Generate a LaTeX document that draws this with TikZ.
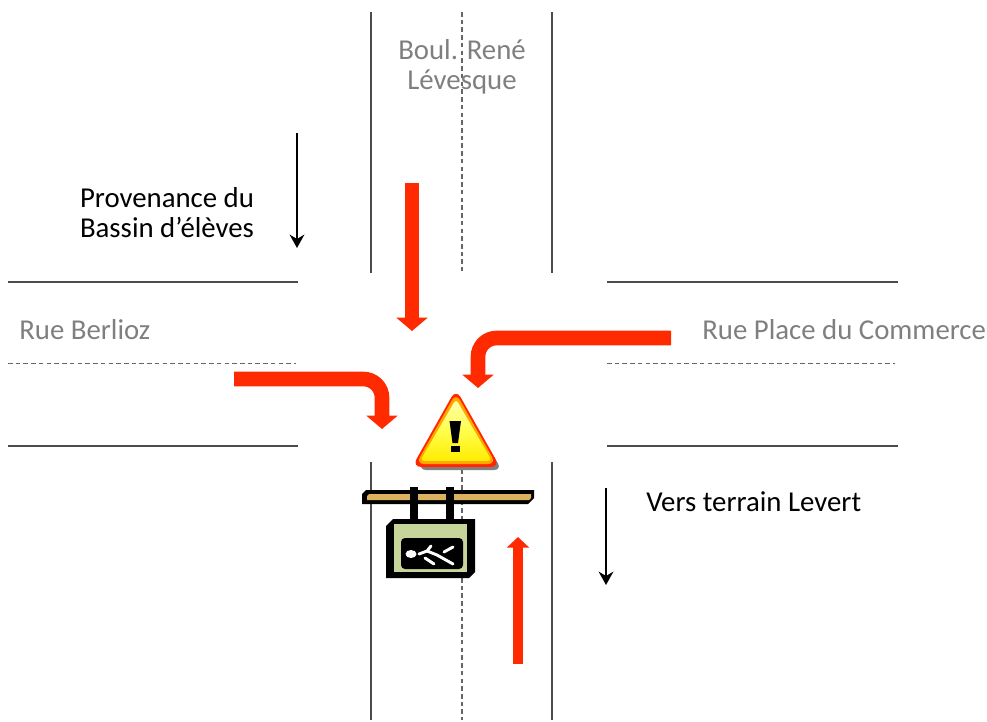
\documentclass[tikz,border=0pt]{standalone}
\usepackage{fontspec}
\setmainfont{Carlito}
\usepackage{xcolor}
\usetikzlibrary{arrows.meta,positioning,calc}
\definecolor{redarrow}{HTML}{FF2A00}
\definecolor{roadgray}{HTML}{7F7F7F}
\definecolor{plank}{HTML}{DCB05F}
\definecolor{panel}{HTML}{C6D69A}

\begin{document}
\begin{tikzpicture}[
  x=0.75pt, y=-0.75pt,
  kerb/.style={draw=black!70, line width=1pt},
  midline/.style={draw=black!60, line width=1.2pt, dash pattern=on 3.4pt off 2.4pt},
  road/.style={font=\fontsize{21.6}{22.5}\selectfont, text=roadgray, align=center},
  label/.style={font=\fontsize{21.6}{22.5}\selectfont, text=black, align=center},
  flow/.style={-{Triangle[length=10pt, width=23pt]}, redarrow, line width=11pt, rounded corners=14pt},
  flowup/.style={-{Triangle[length=8pt, width=16.5pt]}, redarrow, line width=8pt},
  way/.style={-{Stealth[length=10pt, width=11pt]}, black, line width=1.9pt}
]
\useasboundingbox (0,0) rectangle (987,721);

\draw[kerb] (371,12) -- (371,273);
\draw[kerb] (552,12) -- (552,273);
\draw[kerb] (371,462) -- (371,720);
\draw[kerb] (552,462) -- (552,720);
\draw[midline] (462,12) -- (462,271);
\draw[midline] (462,462) -- (462,720);
\draw[kerb] (8,282) -- (298,282);
\draw[kerb] (607,282) -- (898,282);
\draw[kerb] (8,446) -- (298,446);
\draw[kerb] (607,446) -- (898,446);
\draw[midline] (8,363.5) -- (296,363.5);
\draw[midline] (607,363.5) -- (895,363.5);

\node[road] (boul) at (462,67) {Boul. René\\Lévesque};
\node[road, anchor=west, inner sep=0pt] (berlioz) at (19,330) {Rue Berlioz};
\node[road, anchor=west, inner sep=0pt] (commerce) at (702,330) {Rue Place du Commerce};
\node[label] (bassin) at (167,213) {Provenance du\\Bassin d’élèves};
\node[label, anchor=west, inner sep=0pt] (levert) at (646,502) {Vers terrain Levert};

\coordinate (n1) at (412,183);
\coordinate (n2) at (412,331);
\coordinate (e1) at (671,338);
\coordinate (e2) at (478,388);
\coordinate (w1) at (234,379);
\coordinate (w2) at (382,429);
\coordinate (s1) at (518,664);
\coordinate (s2) at (518,537);
\coordinate (b1) at (297,133);
\coordinate (b2) at (297,248);
\coordinate (v1) at (606,488);
\coordinate (v2) at (606,585);

\draw[way] (b1) -- (b2);
\draw[way] (v1) -- (v2);
\draw[flow] (n1) -- (n2);
\draw[flow] (e1) -| (e2);
\draw[flow] (w1) -| (w2);
\draw[flowup] (s1) -- (s2);

% warning triangle
\fill[black!50, rounded corners=6pt] (458,398) -- (502,470) -- (418,470) -- cycle;
\fill[red!70!orange, rounded corners=7pt] (456,389) -- (500,467) -- (412,467) -- cycle;
\fill[orange!70!yellow, rounded corners=6pt] (456,393) -- (496,464) -- (416,464) -- cycle;
\shade[top color=white!70!yellow, bottom color=yellow!85!orange, middle color=yellow!70, rounded corners=3pt]
  (456,399) -- (492,461) -- (420,461) -- cycle;
\fill[black] (449.5,421) -- (461,421) -- (458,443) -- (452.5,443) -- cycle;
\fill[black] (451,446) rectangle (460,452);

% hanging sign
\fill[black] (362,504) -- (362,494) -- (366,490) -- (534,490) -- (534,498) -- (528,504) -- cycle;
\fill[plank] (367,500) -- (367,496) -- (369,494) -- (531,494) -- (531,498) -- (529,500) -- cycle;
\fill[black] (410,487) rectangle (418,521);
\fill[black] (446,487) rectangle (454,521);
\fill[black] (393,519) -- (475,519) -- (475,572) -- (469,578) -- (386,578) -- (386,526) -- cycle;
\fill[panel] (394,524) rectangle (467,572);
\fill[black, rounded corners=3pt] (401,538) rectangle (463,569);
\fill[white] (411,554) ellipse (5.5 and 4);
\draw[white, line width=2.2pt, line cap=round]
  (419,554) -- (427,551) -- (431,546)
  (427,551) -- (437,555) -- (453,564)
  (425,558) -- (434,564)
  (444,552) -- (453,547);
\end{tikzpicture}
\end{document}
